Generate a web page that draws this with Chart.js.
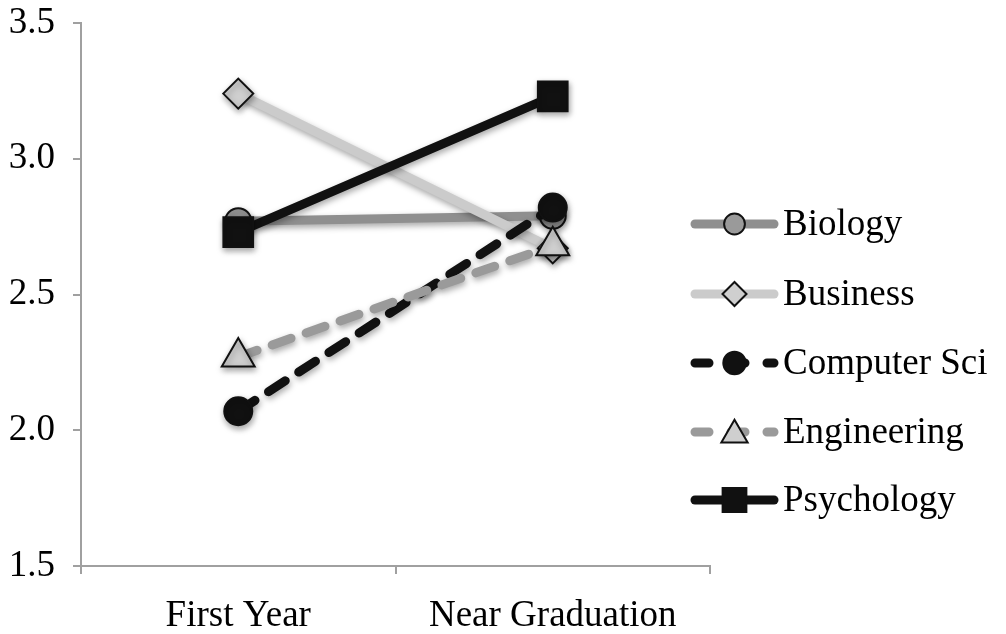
<!DOCTYPE html>
<html>
<head>
<meta charset="utf-8">
<script src="https://cdn.jsdelivr.net/npm/chart.js@4/dist/chart.umd.min.js"></script>
<style>
  html, body { margin: 0; padding: 0; background: #fff; }
  #wrap { width: 1006px; height: 634px; }
</style>
</head>
<body>
<div id="wrap"><canvas id="chart" width="1006" height="634"></canvas></div>
<script>
const categories = ["First Year", "Near Graduation"]
const seriesNames = ["Biology", "Business", "Computer Sci", "Engineering", "Psychology"]
const biology = [2.77, 2.79]
const business = [3.24, 2.67]
const computerSci = [2.07, 2.82]
const engineering = [2.27, 2.68]
const psychology = [2.73, 3.23]
const yTicks = [1.5, 2.0, 2.5, 3.0, 3.5]

const serif = "'Liberation Serif', 'Times New Roman', serif"
const axisGrey = "#a0a0a0"

// look of each series, in legend order
const looks = [
  { line: "#8f8f8f", fill: "#9a9a9a", point: "circle", radius: 13, dash: [] },
  { line: "#cbcbcb", fill: "#cfcfcf", point: "rectRot", radius: 15, dash: [] },
  { line: "#111111", fill: "#111111", point: "circle", radius: 14, dash: [20, 16] },
  { line: "#9a9a9a", fill: "#cfcfcf", point: "triangle", radius: 19, dash: [20, 16] },
  { line: "#111111", fill: "#111111", point: "rect", radius: 21, dash: [] }
]
const values = [biology, business, computerSci, engineering, psychology]

const datasets = seriesNames.map((name, i) => ({
  label: name,
  data: values[i],
  order: seriesNames.length - i,
  borderColor: looks[i].line,
  borderWidth: 9,
  borderDash: looks[i].dash,
  borderCapStyle: "round",
  borderJoinStyle: "round",
  pointStyle: looks[i].point,
  pointRadius: looks[i].radius,
  pointHoverRadius: looks[i].radius,
  pointBackgroundColor: looks[i].fill,
  pointBorderColor: "#111",
  pointBorderWidth: 2,
  clip: false
}))

// soft drop shadow under lines and markers
const shadowPlugin = {
  id: "shadow",
  beforeDatasetsDraw(chart) {
    const ctx = chart.ctx
    ctx.save()
    ctx.shadowColor = "rgba(0,0,0,0.35)"
    ctx.shadowBlur = 6
    ctx.shadowOffsetX = 1
    ctx.shadowOffsetY = 3
  },
  afterDatasetsDraw(chart) {
    chart.ctx.restore()
  }
}

// legend: line sample with marker, then name
const legendPlugin = {
  id: "lineLegend",
  afterDraw(chart) {
    const ctx = chart.ctx
    const left = 691
    const right = 778
    const mid = (left + right) / 2
    const rows = [224, 294, 363, 432, 500]
    seriesNames.forEach((name, i) => {
      const y = rows[i]
      const look = looks[i]
      ctx.save()
      ctx.strokeStyle = look.line
      ctx.lineWidth = 9
      ctx.lineCap = "round"
      ctx.setLineDash(look.dash.length ? [14, 22] : [])
      ctx.beginPath()
      ctx.moveTo(left + 4, y)
      ctx.lineTo(right - 4, y)
      ctx.stroke()
      ctx.setLineDash([])
      ctx.fillStyle = look.fill
      ctx.strokeStyle = "#111"
      ctx.lineWidth = 2
      Chart.helpers.drawPoint(ctx, {
        pointStyle: look.point,
        radius: look.radius * 0.8,
        rotation: 0,
        borderWidth: 2
      }, mid, y + (look.point === "triangle" ? 3 : 0))
      ctx.fillStyle = "#000"
      ctx.font = "37px " + serif
      ctx.textBaseline = "middle"
      ctx.textAlign = "left"
      ctx.fillText(name, 783, y + 1)
      ctx.restore()
    })
  }
}

new Chart(document.getElementById("chart"), {
  type: "line",
  data: { labels: categories, datasets: datasets },
  options: {
    responsive: false,
    animation: false,
    events: [],
    layout: { padding: { top: 19, right: 296, left: 0, bottom: 0 } },
    plugins: {
      legend: { display: false },
      tooltip: { enabled: false }
    },
    scales: {
      x: {
        type: "category",
        offset: true,
        afterFit: (scale) => { scale.height = 634 - 566 },
        grid: {
          offset: true,
          drawOnChartArea: false,
          drawTicks: true,
          tickLength: 8,
          color: axisGrey,
          lineWidth: 2
        },
        border: { display: true, color: axisGrey, width: 2 },
        ticks: {
          color: "#000",
          font: { family: serif, size: 37 },
          padding: 20
        }
      },
      y: {
        min: 1.5,
        max: 3.5,
        afterFit: (scale) => {
          scale.width = 81
          scale.paddingTop = 0
          scale.paddingBottom = 0
        },
        afterBuildTicks: (scale) => { scale.ticks = yTicks.map(v => ({ value: v })) },
        grid: {
          drawOnChartArea: false,
          drawTicks: true,
          tickLength: 8,
          color: axisGrey,
          lineWidth: 2
        },
        border: { display: true, color: axisGrey, width: 2 },
        ticks: {
          color: "#000",
          font: { family: serif, size: 37 },
          padding: 18,
          callback: (v) => Number(v).toFixed(1)
        }
      }
    }
  },
  plugins: [shadowPlugin, legendPlugin]
})
</script>
</body>
</html>
